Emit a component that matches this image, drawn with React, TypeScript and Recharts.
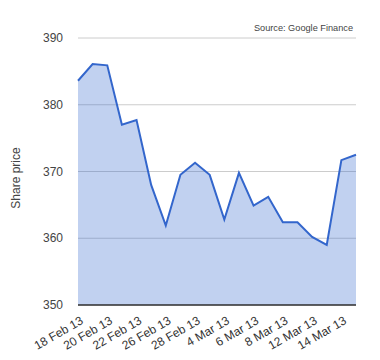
import React from "react";
import { AreaChart, Area, XAxis, YAxis, CartesianGrid } from "recharts";

const dates = [
  "18 Feb 13", "19 Feb 13", "20 Feb 13", "21 Feb 13", "22 Feb 13",
  "25 Feb 13", "26 Feb 13", "27 Feb 13", "28 Feb 13", "1 Mar 13",
  "4 Mar 13", "5 Mar 13", "6 Mar 13", "7 Mar 13", "8 Mar 13",
  "11 Mar 13", "12 Mar 13", "13 Mar 13", "14 Mar 13", "15 Mar 13",
];
const prices = [
  383.6, 386.1, 385.9, 377.0, 377.7,
  368.0, 361.9, 369.5, 371.3, 369.5,
  362.8, 369.8, 364.9, 366.2, 362.4,
  362.4, 360.2, 359.0, 371.7, 372.5,
];
const yTicks = [350, 360, 370, 380, 390];
const yLabel = "Share price";
const sourceText = "Source: Google Finance";

const data = dates.map((d, i) => ({ date: d, price: prices[i] }));

const FONT = "'Liberation Sans', Arial, sans-serif";

const YTick = (props: any) => {
  const { y, payload } = props;
  return (
    <text x={63} y={y + 4} textAnchor="end" fontSize={12} fill="#444" fontFamily={FONT}>
      {payload.value}
    </text>
  );
};

const XTick = (props: any) => {
  const { x, y, payload } = props;
  return (
    <g transform={`translate(${x + 6},${y + 10}) rotate(-30)`}>
      <text x={0} y={0} textAnchor="end" fontSize={12} fill="#333" fontFamily={FONT}>
        {payload.value}
      </text>
    </g>
  );
};

export default function App() {
  return (
    <div style={{ position: "absolute", left: 0, top: 0, width: 380, height: 360, background: "#fff" }}>
      <AreaChart
        width={380}
        height={360}
        data={data}
        margin={{ top: 38, right: 24, left: 0, bottom: 0 }}
      >
        <CartesianGrid vertical={false} stroke="#ccc" />
        <XAxis
          dataKey="date"
          interval={1}
          height={55}
          tick={<XTick />}
          tickLine={false}
          axisLine={{ stroke: "#333", strokeWidth: 1.5 }}
        />
        <YAxis
          width={78}
          domain={[350, 390]}
          ticks={yTicks}
          tick={<YTick />}
          tickLine={false}
          axisLine={false}
        />
        <Area
          type="linear"
          dataKey="price"
          stroke="#3366cc"
          strokeWidth={2}
          fill="#3366cc"
          fillOpacity={0.3}
          isAnimationActive={false}
          dot={false}
          activeDot={false}
        />
      </AreaChart>
      <svg
        width={380}
        height={360}
        style={{ position: "absolute", left: 0, top: 0, pointerEvents: "none" }}
      >
        <text
          x={353}
          y={31}
          textAnchor="end"
          fontSize={9.2}
          fill="#444"
          fontFamily={FONT}
        >
          {sourceText}
        </text>
        <text
          transform="translate(20,178) rotate(-90)"
          textAnchor="middle"
          fontSize={12}
          fill="#444"
          fontFamily={FONT}
        >
          {yLabel}
        </text>
      </svg>
    </div>
  );
}
